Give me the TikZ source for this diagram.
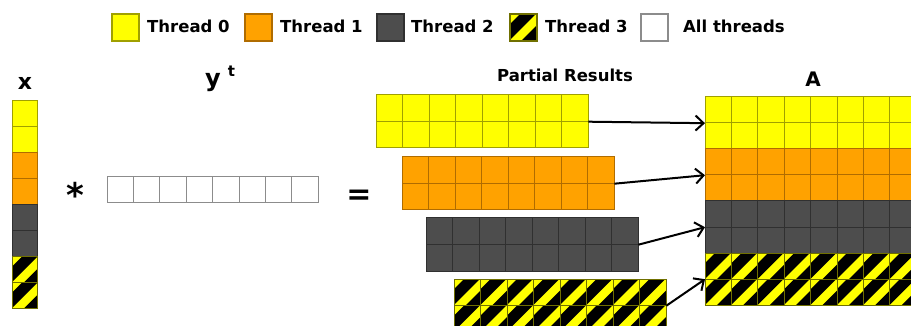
\documentclass[tikz,border=0pt]{standalone}
\usepackage{fontspec}
\setmainfont{DejaVu Sans}
\usetikzlibrary{arrows.meta}

\definecolor{thr0}{HTML}{FFFF00}
\definecolor{thr0line}{HTML}{A0A000}
\definecolor{thr1}{HTML}{FFA200}
\definecolor{thr1line}{HTML}{B06C00}
\definecolor{thr2}{HTML}{4D4D4D}
\definecolor{thr2line}{HTML}{303030}
\definecolor{allline}{HTML}{8C8C8C}

\tikzset{
  c0/.style={fill=thr0, draw=thr0line, line width=1pt},
  c1/.style={fill=thr1, draw=thr1line, line width=1pt},
  c2/.style={fill=thr2, draw=thr2line, line width=1pt},
  c3/.style={fill=thr0, draw=thr0line!70!black, line width=1pt, path picture={
      \begin{scope}[shift={(path picture bounding box.north west)}]
        \draw[black, line width=11pt] (28,-10) -- (-10,28);
        \draw[black, line width=15.5pt] (59,-10) -- (-10,59);
      \end{scope}}},
  call/.style={fill=white, draw=allline, line width=1pt},
  lbl/.style={font=\bfseries\fontsize{16.5}{18}\selectfont, inner sep=0},
  arr/.style={-{Straight Barb[length=8pt, width=15pt]}, line width=2pt},
}

% 8x2 block of partial results, with a named node over it
\newcommand{\partblock}[4]{%
  \foreach \col in {0,...,7} {\foreach \row in {0,1} {
    \draw[#2] ({#3+\col*26.5},{#4+\row*26.5}) rectangle ++(26.5,26.5);}}
  \node[anchor=north west, inner sep=0, minimum width=212, minimum height=53] (#1) at (#3,#4) {};
}

\begin{document}
\begin{tikzpicture}[x=1pt, y=-1pt]
  \useasboundingbox (0,0) rectangle (911,326);
  \clip (0,0) rectangle (911,326);

  % legend
  \foreach \sty/\xb/\xt/\txt [count=\i] in {c0/112/147/Thread 0, c1/245/280/Thread 1,
      c2/377/411/Thread 2, c3/510/545/Thread 3, call/641/683/All threads} {
    \draw[\sty, line width=1.3pt] (\xb,14) rectangle ++(27,27);
    \node[lbl, anchor=base west] (legtxt\i) at (\xt,33) {\txt};
  }

  % x
  \node[lbl, font=\bfseries\fontsize{22}{24}\selectfont, anchor=base] (xlbl) at (25,90) {x};
  \foreach \sty [count=\i from 0] in {c0,c0,c1,c1,c2,c2,c3,c3}
    \draw[\sty] (12,{101+\i*25.9}) rectangle ++(25,25.9);

  \node[lbl, font=\bfseries\fontsize{34}{36}\selectfont, anchor=center] (times) at (75,195) {*};

  % y^t
  \node[lbl, font=\bfseries\fontsize{24}{26}\selectfont, anchor=base west] (ylbl) at (205,87)
    {y\hspace{7pt}\raisebox{10pt}{\fontsize{15}{16}\selectfont t}};
  \foreach \i in {0,...,7}
    \draw[call] ({107+\i*26.4},177) rectangle ++(26.4,26);

  \node[lbl, font=\bfseries\fontsize{30}{32}\selectfont, anchor=base] (equals) at (359,204.5) {=};

  % partial results
  \node[lbl, anchor=base] (ptitle) at (565,82) {Partial Results};
  \partblock{p0}{c0}{376}{95}
  \partblock{p1}{c1}{402}{157}
  \partblock{p2}{c2}{426}{218}
  \partblock{p3}{c3}{454}{279}

  % A
  \node[lbl, font=\bfseries\fontsize{20}{22}\selectfont, anchor=base] (albl) at (813,87) {A};
  \foreach \sty [count=\row from 0] in {c0,c0,c1,c1,c2,c2,c3,c3}
    \foreach \col in {0,...,7}
      \draw[\sty] ({705+\col*26.4},{97+\row*26}) rectangle ++(26.4,26);
  \foreach \k in {0,...,3}
    \node[anchor=north west, inner sep=0, minimum width=212, minimum height=52] (a\k) at (705,{97+\k*52}) {};

  \draw[arr] (p0.east) -- (a0.west);
  \draw[arr] (p1.east) -- (a1.west);
  \draw[arr] (p2.east) -- (a2.west);
  \draw[arr] (p3.east) -- (a3.west);
\end{tikzpicture}
\end{document}
